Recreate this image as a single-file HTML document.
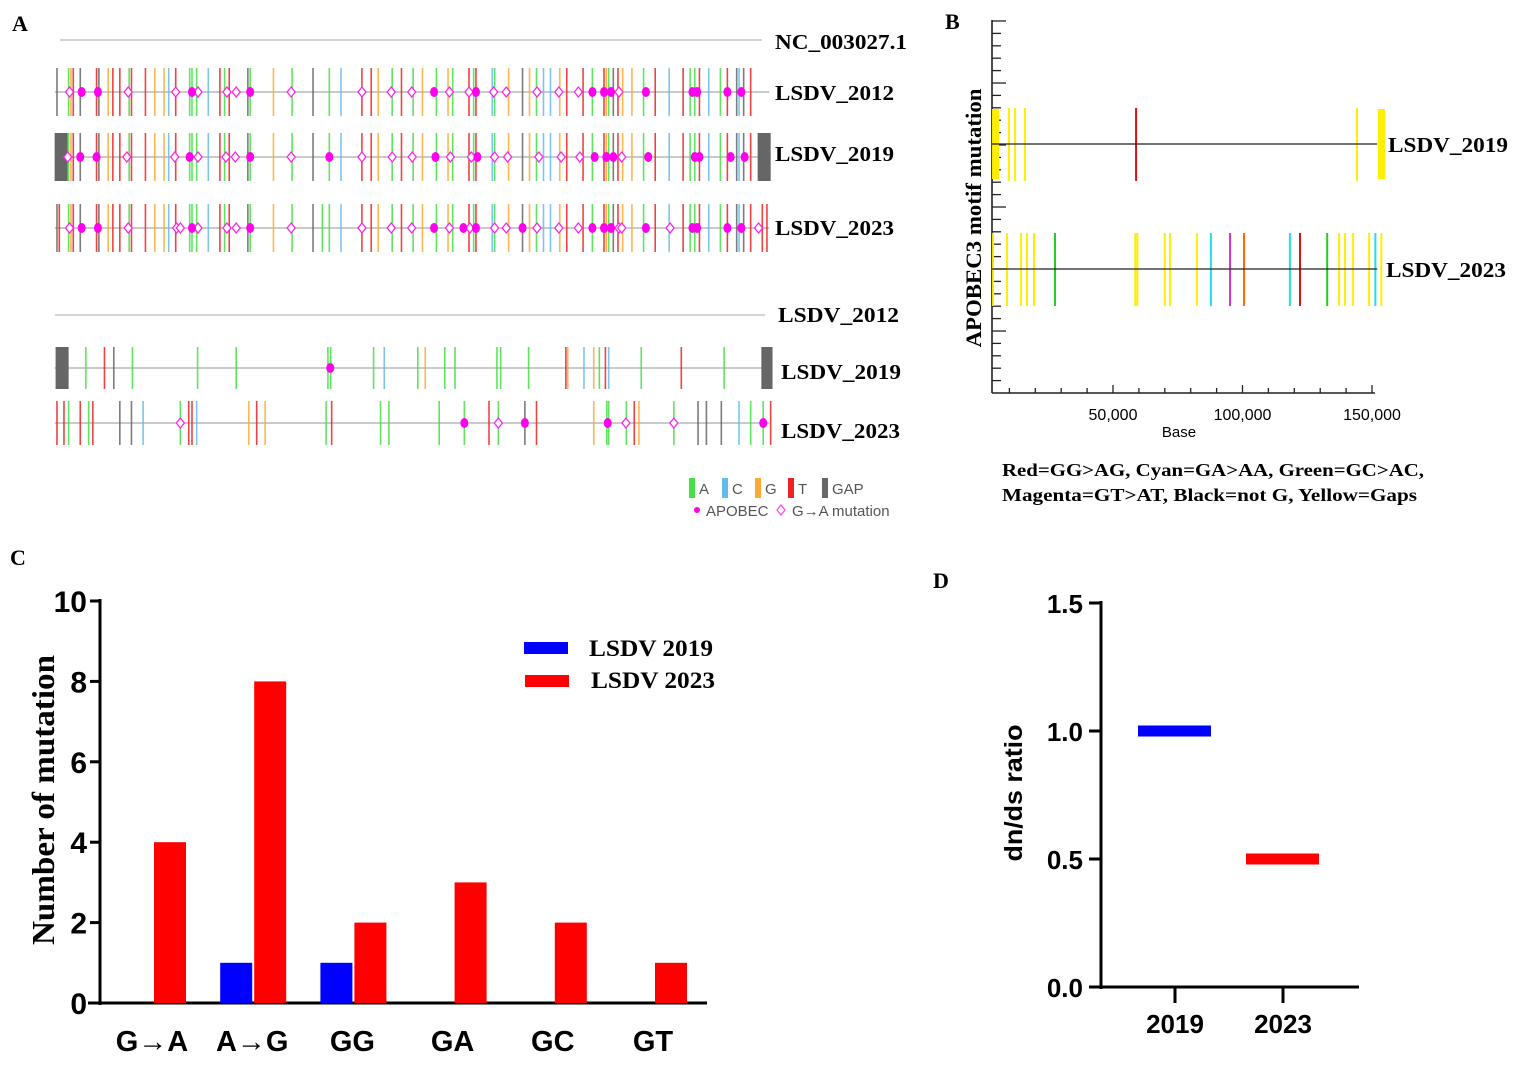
<!DOCTYPE html>
<html><head><meta charset="utf-8">
<style>
html,body{margin:0;padding:0;background:#fff;}
svg{display:block;}
.serif{font-family:"Liberation Serif",serif;font-weight:bold;}
.sans{font-family:"Liberation Sans",sans-serif;}
</style></head>
<body>
<svg id="fig" width="1519" height="1065" viewBox="0 0 1519 1065" xmlns="http://www.w3.org/2000/svg">
<g class="serif" font-size="22">
<text x="12" y="31">A</text>
<text x="945" y="29">B</text>
<text x="10" y="565">C</text>
<text x="933" y="588">D</text>
</g>
<g id="panelA"></g>
<g id="panelB"></g>
<g id="panelC"></g>
<g id="panelD"></g>
</svg>
<script>
const NS="http://www.w3.org/2000/svg";
function mk(parent,tag,attrs,txt){const e=document.createElementNS(NS,tag);for(const k in attrs)e.setAttribute(k,attrs[k]);if(txt!==undefined)e.textContent=txt;parent.appendChild(e);return e;}

// ---------- Panel A data (site positions on 0..1540 genome scale, colour code) ----------
const colA={g:"#44e044",b:"#66bbee",o:"#ffaa33",r:"#ee2222",k:"#666666"};
const sitesTop=[[15,"k"],[40,"g"],[45,"o"],[50,"r"],[65,"k"],[100,"r"],[105,"k"],[125,"o"],[135,"r"],[150,"r"],[170,"g"],[175,"r"],[205,"r"],[225,"o"],[245,"o"],[255,"b"],[270,"r"],[300,"g"],[305,"g"],[315,"g"],[340,"b"],[365,"r"],[375,"g"],[385,"r"],[425,"k"],[430,"g"],[480,"o"],[520,"g"],[565,"k"],[600,"g"],[625,"b"],[670,"r"],[690,"r"],[705,"o"],[735,"g"],[755,"r"],[780,"g"],[800,"o"],[830,"g"],[855,"o"],[865,"g"],[900,"r"],[910,"g"],[915,"r"],[950,"b"],[955,"g"],[985,"o"],[1015,"k"],[1030,"o"],[1045,"g"],[1060,"b"],[1075,"b"],[1095,"o"],[1110,"r"],[1145,"r"],[1165,"g"],[1190,"r"],[1195,"o"],[1200,"g"],[1210,"k"],[1220,"r"],[1230,"o"],[1250,"o"],[1275,"g"],[1300,"r"],[1330,"b"],[1360,"r"],[1375,"g"],[1385,"g"],[1395,"r"],[1415,"b"],[1440,"g"],[1455,"r"],[1475,"k"],[1480,"b"],[1490,"k"],[1505,"r"]];
const extra2023=[[20,"r"],[585,"g"],[1530,"r"],[1540,"r"]];
const apoDots2012=[68,103,305,430,825,915,1165,1190,1205,1280,1380,1390,1455,1485];
const gaDiam2012=[42,168,270,318,380,400,518,670,733,777,858,900,953,980,1046,1093,1135,1222];
const apoDots2019=[65,100,300,430,600,828,918,1170,1195,1210,1285,1385,1395,1462,1492];
const gaDiam2019=[38,165,268,318,378,398,518,670,735,778,860,905,955,983,1050,1098,1138,1228];
const apoDots2023=[68,103,305,430,825,888,915,1015,1165,1190,1205,1280,1380,1390,1455,1485];
const gaDiam2023=[42,168,272,280,318,380,400,518,670,733,777,858,902,955,980,1046,1093,1135,1222,1228,1332,1522];
const sitesB2019=[[77,"g"],[117,"r"],[137,"k"],[177,"g"],[317,"g"],[400,"g"],[597,"g"],[603,"g"],[695,"g"],[718,"b"],[790,"g"],[806,"o"],[848,"g"],[870,"g"],[960,"g"],[968,"g"],[1028,"g"],[1108,"r"],[1112,"o"],[1147,"b"],[1168,"o"],[1180,"g"],[1193,"r"],[1200,"b"],[1270,"g"],[1356,"r"],[1448,"g"]];
const apoDotsB2019=[602];
const sitesB2023=[[15,"r"],[30,"r"],[40,"g"],[65,"r"],[83,"g"],[92,"r"],[150,"k"],[175,"k"],[200,"b"],[280,"g"],[298,"r"],[305,"r"],[315,"b"],[427,"o"],[444,"r"],[462,"o"],[593,"g"],[605,"r"],[710,"g"],[728,"g"],[836,"g"],[890,"g"],[943,"r"],[963,"g"],[1020,"k"],[1045,"r"],[1168,"o"],[1196,"g"],[1200,"g"],[1238,"g"],[1255,"r"],[1265,"o"],[1340,"g"],[1392,"k"],[1410,"k"],[1442,"k"],[1480,"b"],[1505,"g"],[1532,"g"],[1548,"r"]];
const apoDotsB2023=[890,1020,1198,1532];
const gaDiamB2023=[280,963,1237,1340];

function xA(p){return 50+p/2.148;}
const A=document.getElementById('panelA');
function refLine(y,x1,x2){const l=mk(A,'line',{x1:x1,x2:x2,y1:y,y2:y,stroke:"#bbbbbb","stroke-width":1.2});

}
function track(name,cy,h,sites,dots,diams,gaps){
  const g=mk(A,'g',{});
  
  
  mk(g,'line',{x1:xA(10),x2:xA(1545),y1:cy,y2:cy,stroke:"#aaaaaa","stroke-width":1.2});
  sites.forEach(s=>{const l=mk(g,'line',{x1:xA(s[0]),x2:xA(s[0]),y1:cy-h,y2:cy+h,stroke:colA[s[1]],"stroke-width":1.6,opacity:0.85});
    
    });
  if(gaps){gaps.forEach(gp=>{const r=mk(g,'rect',{x:xA(gp[0]),y:cy-h,width:(gp[1]-gp[0])/2.148,height:2*h,fill:"#666666"});
    
    });}
  diams.forEach(p=>{const x=xA(p);const d=mk(g,'polygon',{points:`${x},${cy-5} ${x+4},${cy} ${x},${cy+5} ${x-4},${cy}`,fill:"#fff",stroke:"#ff22ee","stroke-width":1.3});
    
    });
  dots.forEach(p=>{const c=mk(g,'ellipse',{cx:xA(p),cy:cy,rx:4,ry:5,fill:"#ff00ee"});
    
    });
}
refLine(40,60,762);
track('track-2012',92,24,sitesTop,apoDots2012,gaDiam2012,null);
track('track-2019',157,24,sitesTop,apoDots2019,gaDiam2019,[[10,38],[1520,1548]]);
track('track-2023',228,24,sitesTop.concat(extra2023),apoDots2023,gaDiam2023,null);
refLine(315,55,765);
track('track-bottom-2019',368,21,sitesB2019,apoDotsB2019,[],[[12,40],[1528,1552]]);
track('track-bottom-2023',423,22,sitesB2023,apoDotsB2023,gaDiamB2023,null);
const labA=[["NC_003027.1",775,49,132],["LSDV_2012",775,100,119],["LSDV_2019",775,161,119],["LSDV_2023",775,235,119],["LSDV_2012",778,322,121],["LSDV_2019",781,379,120],["LSDV_2023",781,438,119]];
labA.forEach(l=>{const t=mk(A,'text',{x:l[1],y:l[2],class:"serif","font-size":21,textLength:l[3],lengthAdjust:"spacingAndGlyphs"},l[0]);

});
// legend A
const lg=mk(A,'g',{class:"sans","font-size":15,fill:"#555"});


[["A","#44e044",689],["C","#66bbee",722],["G","#ffaa33",755],["T","#ee2222",788],["GAP","#666666",822]].forEach(k=>{
 const r=mk(lg,'rect',{x:k[2],y:478,width:6,height:20,fill:k[1]});
 
 
 const t=mk(lg,'text',{x:k[2]+10,y:494},k[0]);
 
 });
mk(lg,'circle',{cx:697,cy:510,r:3,fill:"#ff00ee"});
mk(lg,'text',{x:706,y:516},"APOBEC");
mk(lg,'polygon',{points:"781,505 785,510 781,515 777,510",fill:"#fff",stroke:"#ff44ee","stroke-width":1.2});
mk(lg,'text',{x:792,y:516},"G\u2192A mutation");

// ---------- Panel B ----------
const bTicksX=[50000,100000,150000];
const b2019Lines=[[9800,"y"],[12200,"y"],[16000,"y"],[58900,"r"],[144200,"y"]];
const b2019Gaps=[[3300,6000],[152300,155000]];
const b2023Lines=[[3700,"y"],[9100,"y"],[14500,"y"],[16800,"y"],[19500,"y"],[27600,"g"],[58600,"y"],[59400,"y"],[70000,"y"],[72000,"y"],[82400,"y"],[87800,"c"],[95200,"m"],[100600,"o"],[118300,"c"],[122200,"r"],[132700,"g"],[137300,"y"],[139600,"y"],[142700,"y"],[148900,"y"],[151300,"c"],[153600,"y"]];
const colB={y:"#ffee00",r:"#dd1111",g:"#22cc22",c:"#22ddee",m:"#cc33cc",o:"#ff6600"};
const B=document.getElementById('panelB');
function xB(v){return 983.5+v/50000*129.5;}
const bx0=992,by0=393;
mk(B,'line',{x1:bx0,x2:bx0,y1:20,y2:by0,stroke:"#222","stroke-width":1.6});
mk(B,'line',{x1:bx0,x2:1375,y1:by0,y2:by0,stroke:"#222","stroke-width":1.6});
for(let y=21;y<=by0-5;y+=12.4){mk(B,'line',{x1:bx0,x2:bx0+(Math.round((y-21)/12.4)%5==0?14:9),y1:y,y2:y,stroke:"#222","stroke-width":1.3});}
for(let v=10000;v<=150000;v+=10000){const big=bTicksX.includes(v);mk(B,'line',{x1:xB(v),x2:xB(v),y1:by0,y2:by0-(big?8:5),stroke:"#222","stroke-width":1.3});}
bTicksX.forEach(v=>{const t=mk(B,'text',{x:xB(v),y:420,"text-anchor":"middle",class:"sans","font-size":16},v.toLocaleString('en-US'));

});
const bt=mk(B,'text',{x:1179,y:437,"text-anchor":"middle",class:"sans","font-size":15},"Base");


const by=mk(B,'text',{transform:"translate(981,218) rotate(-90)","text-anchor":"middle",class:"serif","font-size":22,textLength:259,lengthAdjust:"spacingAndGlyphs"},"APOBEC3 motif mutation");


function bTrack(name,cy,lines,gaps){
 const g=mk(B,'g',{});
 
 
 if(gaps)gaps.forEach(gp=>{const r=mk(g,'rect',{x:xB(gp[0]),y:cy-35,width:xB(gp[1])-xB(gp[0]),height:70,fill:"#ffee00"});
  
  });
 lines.forEach(s=>{const l=mk(g,'line',{x1:xB(s[0]),x2:xB(s[0]),y1:cy-36,y2:cy+37,stroke:colB[s[1]],"stroke-width":2});
  
  });
 mk(g,'line',{x1:bx0,x2:xB(152000),y1:cy,y2:cy,stroke:"#222","stroke-width":1.3});
}
bTrack('b-track-2019',144,b2019Lines,b2019Gaps);
bTrack('b-track-2023',269,b2023Lines,null);
[["LSDV_2019",1388,152,120],["LSDV_2023",1386,277,120]].forEach(l=>{const t=mk(B,'text',{x:l[1],y:l[2],class:"serif","font-size":21,textLength:l[3],lengthAdjust:"spacingAndGlyphs"},l[0]);

});
const bl1=mk(B,'text',{x:1002,y:476,class:"serif","font-size":18,textLength:422,lengthAdjust:"spacingAndGlyphs"},"Red=GG>AG, Cyan=GA>AA, Green=GC>AC,");


const bl2=mk(B,'text',{x:1002,y:501,class:"serif","font-size":18,textLength:415,lengthAdjust:"spacingAndGlyphs"},"Magenta=GT>AT, Black=not G, Yellow=Gaps");



// ---------- Panel C ----------
const cCats=["G\u2192A","A\u2192G","GG","GA","GC","GT"];
const c2019=[0,1,1,0,0,0];
const c2023=[4,8,2,3,2,1];
const cTicks=[0,2,4,6,8,10];
const C=document.getElementById('panelC');
function yC(v){return 1003-v*40.2;}
function xC(i){return 152+i*100.2;}
mk(C,'line',{x1:100,x2:100,y1:599,y2:1005,stroke:"#000","stroke-width":3});
mk(C,'line',{x1:88,x2:707,y1:1003,y2:1003,stroke:"#000","stroke-width":3});
cTicks.forEach(v=>{mk(C,'line',{x1:90,x2:100,y1:yC(v),y2:yC(v),stroke:"#000","stroke-width":3});
 const t=mk(C,'text',{x:87,y:yC(v)+11,"text-anchor":"end",class:"sans","font-size":30,"font-weight":"bold"},v);
 
 });
cCats.forEach((c,i)=>{
 if(c2019[i]>0){const r=mk(C,'rect',{x:xC(i)-32,y:yC(c2019[i]),width:32,height:yC(0)-yC(c2019[i]),fill:"#0000ff"});
  
  }
 const r2=mk(C,'rect',{x:xC(i)+2,y:yC(c2023[i]),width:32,height:yC(0)-yC(c2023[i]),fill:"#ff0000"});
 
 
 const t=mk(C,'text',{x:xC(i),y:1051,"text-anchor":"middle",class:"sans","font-size":29,"font-weight":"bold"},c);
 
 
});
const cy=mk(C,'text',{transform:"translate(54,800) rotate(-90)","text-anchor":"middle",class:"serif","font-size":32,textLength:290,lengthAdjust:"spacingAndGlyphs"},"Number of mutation");


const l1=mk(C,'rect',{x:524,y:642,width:44,height:12,fill:"#0000ff"});


const l2=mk(C,'rect',{x:525,y:675,width:44,height:12,fill:"#ff0000"});


const lt1=mk(C,'text',{x:589,y:656,class:"serif","font-size":23,textLength:124,lengthAdjust:"spacingAndGlyphs"},"LSDV 2019");


const lt2=mk(C,'text',{x:591,y:688,class:"serif","font-size":23,textLength:124,lengthAdjust:"spacingAndGlyphs"},"LSDV 2023");



// ---------- Panel D ----------
const dCats=["2019","2023"];
const dVals=[1.0,0.5];
const dColors=["#0000ff","#ff0000"];
const dTicks=[0,0.5,1.0,1.5];
const D=document.getElementById('panelD');
function yD(v){return 987-v*256;}
function xD(i){return 1175+i*108;}
mk(D,'line',{x1:1101,x2:1101,y1:601,y2:989,stroke:"#000","stroke-width":3});
mk(D,'line',{x1:1089,x2:1359,y1:987,y2:987,stroke:"#000","stroke-width":3});
dTicks.forEach(v=>{mk(D,'line',{x1:1089,x2:1101,y1:yD(v),y2:yD(v),stroke:"#000","stroke-width":3});
 const t=mk(D,'text',{x:1083,y:yD(v)+10,"text-anchor":"end",class:"sans","font-size":26,"font-weight":"bold"},v.toFixed(1));
 
 });
dCats.forEach((c,i)=>{
 mk(D,'line',{x1:xD(i),x2:xD(i),y1:987,y2:1003,stroke:"#000","stroke-width":3});
 const r=mk(D,'rect',{x:xD(i)-37,y:yD(dVals[i])-5.5,width:73,height:11,fill:dColors[i]});
 
 
 const t=mk(D,'text',{x:xD(i),y:1033,"text-anchor":"middle",class:"sans","font-size":26,"font-weight":"bold"},c);
 
 
});
const dy=mk(D,'text',{transform:"translate(1022,793) rotate(-90)","text-anchor":"middle",class:"sans","font-size":25,"font-weight":"bold",textLength:137,lengthAdjust:"spacingAndGlyphs"},"dn/ds ratio");


</script>
</body></html>
